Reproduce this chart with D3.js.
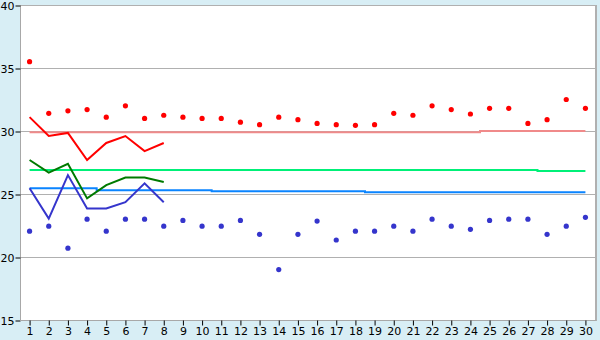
<!DOCTYPE html>
<html>
<head>
<meta charset="utf-8">
<script src="https://cdn.jsdelivr.net/npm/d3@7"></script>
<style>
  body { margin: 0; background: #d8eef5; }
  svg text { font-family: "DejaVu Sans", sans-serif; font-size: 11px; fill: #000; }
</style>
</head>
<body>
<div id="chart"></div>
<script>
var days = d3.range(1, 31);
var yTicks = [15, 20, 25, 30, 35, 40];

// scattered daily values
var redDots = [35.5, 31.4, 31.6, 31.7, 31.1, 32.0, 31.0, 31.25, 31.1, 31.0,
  31.0, 30.7, 30.5, 31.1, 30.9, 30.6, 30.5, 30.45, 30.5, 31.4,
  31.25, 32.0, 31.7, 31.35, 31.8, 31.8, 30.6, 30.9, 32.5, 31.8];
var blueDots = [22.05, 22.45, 20.7, 23.0, 22.05, 23.0, 23.0, 22.45, 22.9, 22.45,
  22.45, 22.9, 21.8, 19.0, 21.8, 22.85, 21.35, 22.05, 22.05, 22.45,
  22.05, 23.0, 22.45, 22.2, 22.9, 23.0, 23.0, 21.8, 22.45, 23.15];

// short series, days 1-8
var redLine = [31.1, 29.6, 29.85, 27.7, 29.05, 29.6, 28.4, 29.05];
var greenLine = [27.7, 26.7, 27.4, 24.65, 25.7, 26.3, 26.3, 25.95];
var blueLine = [25.45, 23.05, 26.5, 23.85, 23.85, 24.35, 25.85, 24.35];

// reference levels per day
var redRef = [29.9, 29.9, 29.9, 29.9, 29.9, 29.9, 29.9, 29.9, 29.9, 29.9,
  29.9, 29.9, 29.9, 29.9, 29.9, 29.9, 29.9, 29.9, 29.9, 29.9,
  29.9, 29.9, 29.9, 29.9, 30.0, 30.0, 30.0, 30.0, 30.0, 30.0];
var greenRef = [26.9, 26.9, 26.9, 26.9, 26.9, 26.9, 26.9, 26.9, 26.9, 26.9,
  26.9, 26.9, 26.9, 26.9, 26.9, 26.9, 26.9, 26.9, 26.9, 26.9,
  26.9, 26.9, 26.9, 26.9, 26.9, 26.9, 26.9, 26.83, 26.83, 26.83];
var blueRef = [25.45, 25.45, 25.45, 25.45, 25.3, 25.3, 25.3, 25.3, 25.3, 25.3,
  25.22, 25.22, 25.22, 25.22, 25.22, 25.22, 25.22, 25.22, 25.14, 25.14,
  25.14, 25.14, 25.14, 25.14, 25.14, 25.14, 25.14, 25.14, 25.14, 25.14];

var width = 600, height = 340;
var plotLeft = 20, plotRight = 595, plotTop = 5, plotBottom = 320;

var svg = d3.select("#chart").append("svg")
  .attr("width", width)
  .attr("height", height);

var x = d3.scaleLinear().domain([0.5, 30.5]).range([plotLeft, plotRight]);
var y = d3.scaleLinear().domain([15, 40]).range([plotBottom, plotTop]);

svg.append("rect")
  .attr("x", plotLeft).attr("y", plotTop)
  .attr("width", plotRight - plotLeft).attr("height", plotBottom - plotTop)
  .attr("fill", "#fff");

// grid
svg.append("g").selectAll("line")
  .data(yTicks.slice(1))
  .enter().append("line")
  .attr("x1", plotLeft).attr("x2", plotRight)
  .attr("y1", function(d) { return y(d) + 0.5; })
  .attr("y2", function(d) { return y(d) + 0.5; })
  .attr("stroke", "#b0b0b0");

// right border
svg.append("line")
  .attr("x1", plotRight + 1).attr("x2", plotRight + 1)
  .attr("y1", plotTop).attr("y2", plotBottom + 1)
  .attr("stroke", "#b0b0b0").attr("stroke-width", 2);

var yAxis = d3.axisLeft(y).tickValues(yTicks).tickSize(5).tickPadding(1);
var gy = svg.append("g").attr("transform", "translate(" + (plotLeft + 0.5) + ",0.5)").call(yAxis);

var xAxis = d3.axisBottom(x).tickValues(days).tickSize(5).tickPadding(2);
var gx = svg.append("g").attr("transform", "translate(0," + (plotBottom + 0.5) + ")").call(xAxis);

[gx, gy].forEach(function(g) {
  g.select(".domain").attr("stroke", "#a8a8a8").attr("stroke-width", 1);
  g.selectAll(".tick line").attr("stroke", "#000");
  g.selectAll(".tick text").attr("fill", "#000")
    .style("font-family", "DejaVu Sans, sans-serif").style("font-size", "11px");
});
gx.select(".domain").attr("d", "M" + plotLeft + ",0H" + (plotRight + 1));
gy.select(".domain").attr("d", "M0," + plotTop + "V" + plotBottom);

// reference step lines
var stepLine = d3.line()
  .x(function(d, i) { return x(i + 1); })
  .y(function(d) { return y(d); })
  .curve(d3.curveStep);

var refs = [
  { data: redRef, color: "#f08a8a" },
  { data: greenRef, color: "#00f078" },
  { data: blueRef, color: "#0a84ff" }
];
refs.forEach(function(r) {
  svg.append("path")
    .attr("d", stepLine(r.data))
    .attr("fill", "none")
    .attr("stroke", r.color)
    .attr("stroke-width", 2);
});

// short series
var line = d3.line()
  .x(function(d, i) { return x(i + 1); })
  .y(function(d) { return y(d); });

var series = [
  { data: redLine, color: "#ff0000" },
  { data: greenLine, color: "#007a00" },
  { data: blueLine, color: "#3535cc" }
];
series.forEach(function(s) {
  svg.append("path")
    .attr("d", line(s.data))
    .attr("fill", "none")
    .attr("stroke", s.color)
    .attr("stroke-width", 2);
});

// dots
var dots = [
  { data: redDots, color: "#ff0000" },
  { data: blueDots, color: "#3535cc" }
];
dots.forEach(function(s) {
  svg.append("g").selectAll("circle")
    .data(s.data)
    .enter().append("circle")
    .attr("cx", function(d, i) { return x(i + 1); })
    .attr("cy", function(d) { return y(d); })
    .attr("r", 2.6)
    .attr("fill", s.color);
});
</script>
</body>
</html>
